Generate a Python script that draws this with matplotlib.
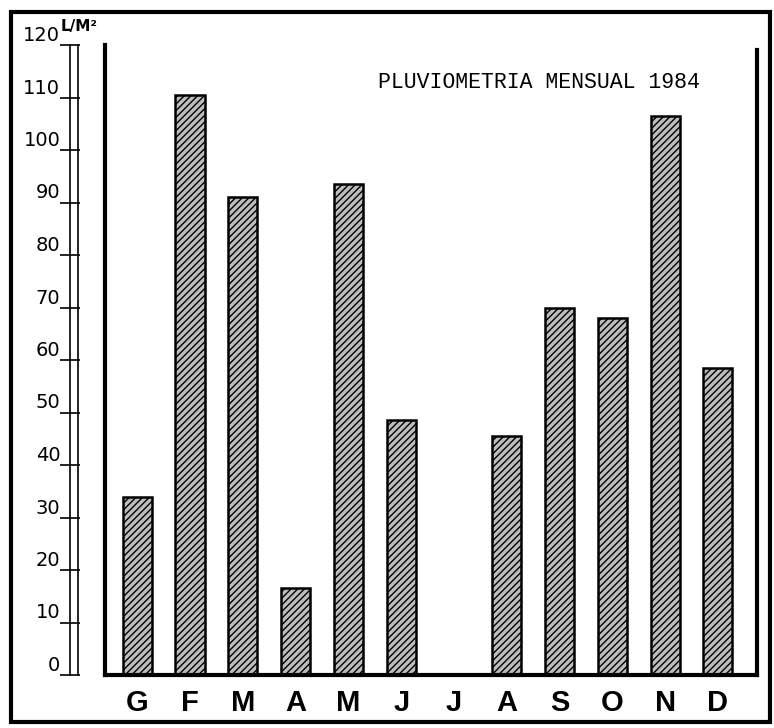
import numpy as np
import matplotlib.pyplot as plt
from matplotlib.patches import Rectangle

# Dades llegides del gràfic (litres per m2, 1984)
mesos = ['G', 'F', 'M', 'A', 'M', 'J', 'J', 'A', 'S', 'O', 'N', 'D']
pluja = [34, 110.5, 91, 16.5, 93.5, 48.5, 0, 45.5, 70, 68, 106.5, 58.5]
escala = list(range(0, 121, 10))

W, H = 774, 728
fig = plt.figure(figsize=(W / 100, H / 100), dpi=100)

def px(x0, y0, x1, y1):
    # caixa en píxels (des de dalt) -> coordenades de figura
    return [x0 / W, 1 - y1 / H, (x1 - x0) / W, (y1 - y0) / H]

# marc exterior
fig.patches.append(Rectangle((11 / W, 6 / H), 759 / W, 710 / H, transform=fig.transFigure,
                             fill=False, lw=3, ec='black'))

# gràfic de barres
ax = fig.add_axes(px(105, 45, 757, 675))
x = np.arange(len(mesos))
ax.bar(x, pluja, width=0.55, facecolor='#bdbdbd', edgecolor='black', linewidth=1.8,
       hatch='/////')
ax.set_xlim(-0.61, 11.74)
ax.set_ylim(0, 120)
ax.set_yticks([])
ax.set_xticks(x, mesos)
ax.tick_params(axis='x', length=0, pad=10)
for lab in ax.get_xticklabels():
    lab.set_fontfamily('Liberation Sans')
    lab.set_fontweight('bold')
    lab.set_fontsize(21)
ax.spines['top'].set_visible(False)
for s in ['left', 'right', 'bottom']:
    ax.spines[s].set_linewidth(3)
ax.spines['right'].set_bounds(0, 119)

# escala a part (doble línia)
ax2 = fig.add_axes(px(70, 45, 78, 675))
ax2.set_ylim(0, 120)
ax2.set_xticks([])
ax2.set_yticks(escala)
ax2.tick_params(axis='y', direction='inout', length=14, width=1.2, pad=0, labelsize=14)
for lab in ax2.get_yticklabels():
    lab.set_va('bottom')
ax2.spines['top'].set_visible(False)
ax2.spines['bottom'].set_visible(False)
ax2.spines['left'].set_linewidth(1.2)
ax2.spines['right'].set_linewidth(1.2)
ax2.patch.set_alpha(0)

fig.text(61 / W, 1 - 31 / H, 'L/M²', fontsize=11, fontweight='bold')

fig.text(378 / W, 1 - 83 / H, 'PLUVIOMETRIA MENSUAL 1984', family='Liberation Mono',
         fontsize=15.5, va='center')

fig.savefig('out.png', dpi=100)
